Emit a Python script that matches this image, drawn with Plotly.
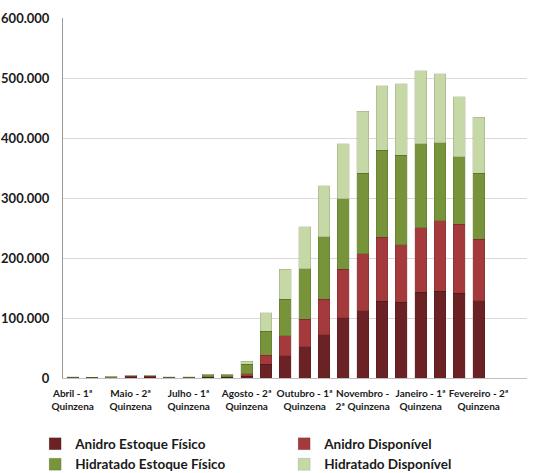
import plotly.graph_objects as go

categories = [
    "Abril - 1ª Quinzena", "Abril - 2ª Quinzena", "Maio - 1ª Quinzena", "Maio - 2ª Quinzena",
    "Junho - 1ª Quinzena", "Junho - 2ª Quinzena", "Julho - 1ª Quinzena", "Julho - 2ª Quinzena",
    "Agosto - 1ª Quinzena", "Agosto - 2ª Quinzena", "Setembro - 1ª Quinzena", "Setembro - 2ª Quinzena",
    "Outubro - 1ª Quinzena", "Outubro - 2ª Quinzena", "Novembro - 1ª Quinzena", "Novembro - 2ª Quinzena",
    "Dezembro - 1ª Quinzena", "Dezembro - 2ª Quinzena", "Janeiro - 1ª Quinzena", "Janeiro - 2ª Quinzena",
    "Fevereiro - 1ª Quinzena", "Fevereiro - 2ª Quinzena", "Março - 1ª Quinzena", "Março - 2ª Quinzena",
]

anidro_estoque = [300, 300, 400, 1500, 1500, 300, 300, 1500, 1500, 3300, 22800, 36700,
                  52000, 71700, 100500, 111700, 128300, 126000, 142800, 144400, 141000, 128900, None, None]
anidro_disp = [200, 200, 300, 1300, 1300, 300, 300, 800, 800, 3400, 15500, 33800,
               46000, 59300, 80500, 95000, 106200, 96000, 107700, 117600, 115000, 102100, None, None]
hidratado_estoque = [400, 400, 1200, 800, 800, 800, 800, 2800, 2800, 16100, 40000, 60500,
                     84000, 104500, 118000, 134300, 145500, 149000, 140000, 129700, 113000, 110000, None, None]
hidratado_disp = [800, 700, 800, 600, 600, 600, 600, 800, 800, 5500, 30700, 50000,
                  70000, 85000, 91500, 104000, 106700, 119500, 121200, 115000, 100000, 93400, None, None]

tick_cats = [categories[i] for i in (0, 3, 6, 9, 12, 15, 18, 21)]
tick_text = ["Abril - 1ª<br>Quinzena", "Maio - 2ª<br>Quinzena", "Julho - 1ª<br>Quinzena",
             "Agosto - 2ª<br>Quinzena", "Outubro - 1ª<br>Quinzena", "Novembro -<br>2ª Quinzena",
             "Janeiro - 1ª<br>Quinzena", "Fevereiro - 2ª<br>Quinzena"]

series = [
    ("Anidro Estoque Físico", anidro_estoque, "#6b2224"),
    ("Anidro Disponível", anidro_disp, "#a43a3b"),
    ("Hidratado Estoque Físico", hidratado_estoque, "#77943a"),
    ("Hidratado Disponível", hidratado_disp, "#c6d8a6"),
]

fig = go.Figure()
for name, vals, col in series:
    fig.add_trace(go.Bar(
        x=categories, y=vals, name=name,
        marker=dict(color=col, line=dict(color="rgba(0,0,0,0.18)", width=0.6)),
    ))

font_family = "Lato, 'Open Sans', sans-serif"
fig.update_layout(
    width=533, height=473,
    barmode="stack", bargap=0.38,
    separators=",.",
    plot_bgcolor="white", paper_bgcolor="white",
    margin=dict(l=63, r=6, t=18, b=95, autoexpand=False),
    font=dict(family=font_family, color="#1a1a1a"),
    showlegend=True,
    legend=dict(
        orientation="h", traceorder="normal",
        x=-0.06, y=-0.14, xanchor="left", yanchor="top",
        entrywidth=204, entrywidthmode="pixels",
        font=dict(size=13.5, weight="bold", color="#1a1a1a", family=font_family),
        itemwidth=30, tracegroupgap=0, bgcolor="rgba(0,0,0,0)",
    ),
    xaxis=dict(
        type="category", categoryorder="array", categoryarray=categories,
        range=[-0.5, 23.5], automargin=False,
        tickmode="array", tickvals=tick_cats, ticktext=tick_text,
        tickangle=0, ticklabelstandoff=6,
        tickfont=dict(size=10, weight="bold", color="#1a1a1a"),
        showline=True, linecolor="#bfbfbf", linewidth=1,
        ticks="", showgrid=False,
    ),
    yaxis=dict(
        range=[0, 600000], dtick=100000, tickformat=",.0f", automargin=False,
        tickfont=dict(size=13, weight="bold", color="#1a1a1a"),
        showline=True, linecolor="#9a9a9a", linewidth=1,
        showgrid=True, gridcolor="#d9d9d9", gridwidth=1,
        ticks="", ticklabelstandoff=10, zeroline=False,
    ),
)

fig.write_html("out.html", config={"displayModeBar": False},
               post_script="document.body.style.margin='0px';")
